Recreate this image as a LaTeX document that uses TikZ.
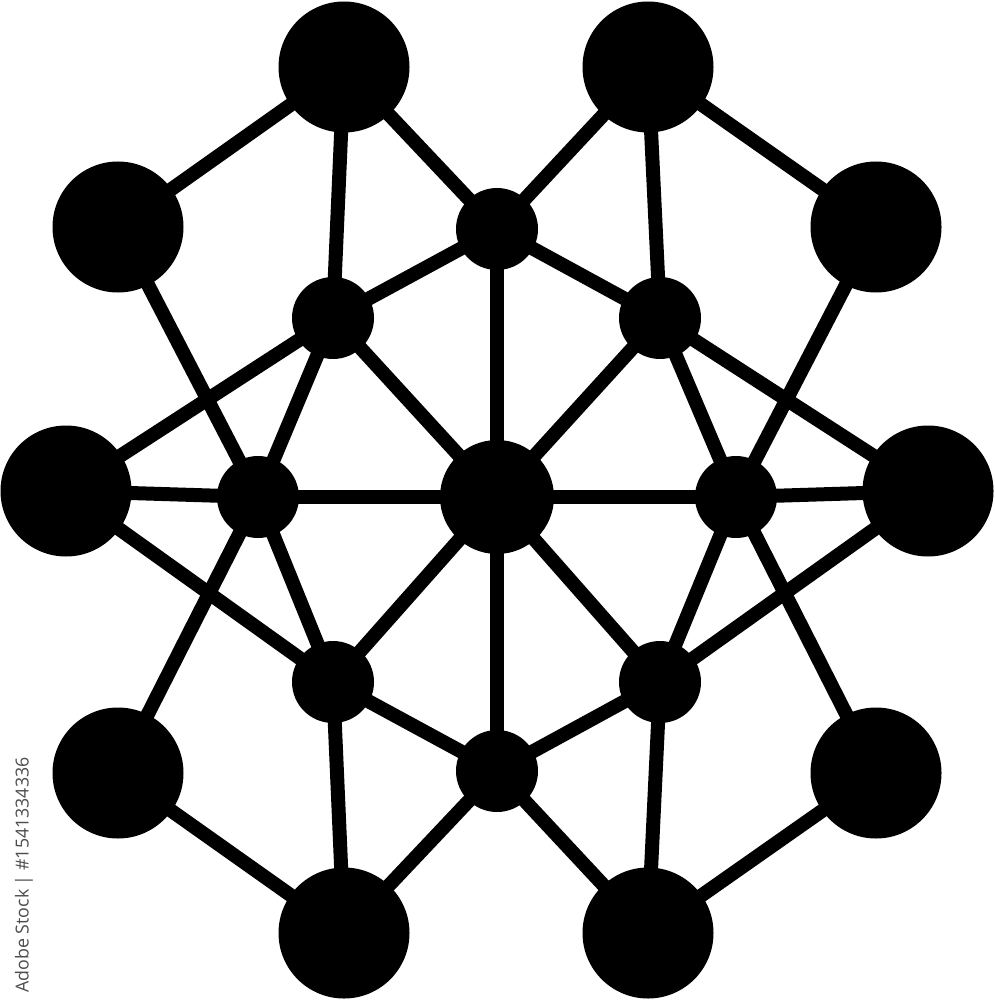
\documentclass[tikz,border=0pt]{standalone}
\usepackage{fontspec}
\setmainfont{Open Sans}
\usetikzlibrary{backgrounds}
\begin{document}
\begin{tikzpicture}[x=1pt,y=-1pt,
  big/.style={circle,fill=black,inner sep=0pt,minimum size=131pt},
  mid/.style={circle,fill=black,inner sep=0pt,minimum size=82pt},
  hub/.style={circle,fill=black,inner sep=0pt,minimum size=114pt},
  link/.style={line width=14pt,black}]
\useasboundingbox (0,0) rectangle (994,1000);
% outer nodes
\node[big] (TL) at (344,67) {};
\node[big] (TR) at (648,67) {};
\node[big] (UL) at (118,227) {};
\node[big] (UR) at (876,227) {};
\node[big] (L)  at (66,491) {};
\node[big] (R)  at (928,491) {};
\node[big] (LL) at (118,773) {};
\node[big] (LR) at (876,773) {};
\node[big] (BL) at (344,933) {};
\node[big] (BR) at (648,933) {};
% inner nodes
\node[hub] (C) at (497,497) {};
\node[mid] (TM) at (497,229) {};
\node[mid] (BM) at (497,771) {};
\node[mid] (IUL) at (333,318) {};
\node[mid] (IUR) at (660,318) {};
\node[mid] (IL) at (258,497) {};
\node[mid] (IR) at (736,497) {};
\node[mid] (ILL) at (333,682) {};
\node[mid] (ILR) at (660,682) {};
\begin{pgfonlayer}{background}
\foreach \a/\b in {TL/UL,TL/TM,TL/IUL,TR/UR,TR/TM,TR/IUR,
  UL/IL,UR/IR,L/IL,L/IUL,L/ILL,R/IR,R/IUR,R/ILR,
  TM/IUL,TM/IUR,TM/C,IUL/C,IUR/C,IUL/IL,IUR/IR,IL/C,IR/C,
  IL/ILL,IR/ILR,IL/LL,IR/LR,ILL/C,ILR/C,C/BM,ILL/BM,ILR/BM,
  ILL/BL,ILR/BR,BL/BM,BR/BM,LL/BL,LR/BR}
  \draw[link] (\a.center) -- (\b.center);
\end{pgfonlayer}
\node[rotate=90,text=black!70,inner sep=0pt] (wm) at (24,875)
  {\resizebox*{235pt}{18pt}{Adobe Stock | \#1541334336}};
\end{tikzpicture}
\end{document}
